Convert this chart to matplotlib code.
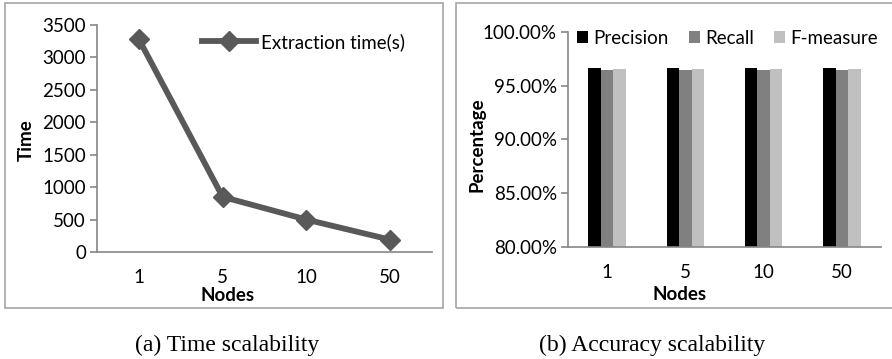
import matplotlib
matplotlib.use("Agg")
import matplotlib.pyplot as plt
from matplotlib.patches import Rectangle
from matplotlib.ticker import FuncFormatter

nodes = ["1", "5", "10", "50"]
extraction_time = [3280, 850, 500, 190]
precision = [96.62, 96.62, 96.62, 96.62]
recall = [96.50, 96.50, 96.50, 96.50]
f_measure = [96.56, 96.56, 96.56, 96.56]

FONT = ["Lato", "DejaVu Sans"]
plt.rcParams['font.family'] = FONT
AX_COL = "#868686"
FS = 13.5

fig = plt.figure(figsize=(8.92, 3.59), dpi=100)
W, H = 892, 359

def fx(px): return px / W
def fy(py): return 1 - py / H

# panel frames
fig.add_artist(Rectangle((fx(5), fy(308)), fx(438), 305 / H, transform=fig.transFigure,
                         fill=False, edgecolor="#a6a6a6", lw=1.2))
fig.add_artist(Rectangle((fx(456), fy(308)), fx(440), 305 / H, transform=fig.transFigure,
                         fill=False, edgecolor="#a6a6a6", lw=1.2))

def style(ax):
    for s in ("top", "right"):
        ax.spines[s].set_visible(False)
    for s in ("left", "bottom"):
        ax.spines[s].set_color(AX_COL)
        ax.spines[s].set_linewidth(1.2)
    ax.tick_params(axis="y", direction="out", length=5, color=AX_COL, width=1.2,
                   labelsize=FS, pad=3)
    ax.tick_params(axis="x", length=0, labelsize=FS, pad=12)

# Left: time
ax1 = fig.add_axes([fx(97), fy(252), fx(335), 227 / H])
x = list(range(len(nodes)))
ax1.plot(x, extraction_time, color="#595959", lw=4.2, marker="D", markersize=10.5,
         label="Extraction time(s)")
ax1.set_xlim(-0.5, 3.5)
ax1.set_ylim(0, 3500)
ax1.set_yticks(range(0, 3501, 500))
ax1.set_xticks(x)
ax1.set_xticklabels(nodes)
style(ax1)
ax1.set_xlabel("Nodes", fontsize=FS, fontweight="bold")
ax1.xaxis.set_label_coords(0.391, -0.192)
ax1.xaxis.label.set_va("center")
ax1.set_ylabel("Time", fontsize=FS, fontweight="bold")
ax1.yaxis.set_label_coords(-0.212, 0.493)
ax1.yaxis.label.set_va("center")
ax1.legend(loc="center left", bbox_to_anchor=(fx(202), fy(42)), bbox_transform=fig.transFigure,
           frameon=False, fontsize=FS, handlelength=2.9, handletextpad=0.27,
           borderaxespad=0, borderpad=0)

# Right: accuracy
ax2 = fig.add_axes([fx(568), fy(247), fx(313), 215 / H])
bw = 0.16
ax2.bar([i - bw for i in x], precision, width=bw, color="#000000", label="Precision")
ax2.bar(x, recall, width=bw, color="#808080", label="Recall")
ax2.bar([i + bw for i in x], f_measure, width=bw, color="#c0c0c0", label="F-measure")
ax2.set_xlim(-0.5, 3.5)
ax2.set_ylim(80, 100)
ax2.set_yticks([80, 85, 90, 95, 100])
ax2.yaxis.set_major_formatter(FuncFormatter(lambda v, p: f"{v:.2f}%"))
ax2.set_xticks(x)
ax2.set_xticklabels(nodes)
style(ax2)
ax2.set_xlabel("Nodes", fontsize=FS, fontweight="bold")
ax2.xaxis.set_label_coords(0.355, -0.22)
ax2.xaxis.label.set_va("center")
ax2.set_ylabel("Percentage", fontsize=FS, fontweight="bold")
ax2.yaxis.set_label_coords(-0.29, 0.474)
ax2.yaxis.label.set_va("center")
ax2.legend(loc="center left", bbox_to_anchor=(fx(577), fy(38)), bbox_transform=fig.transFigure,
           ncol=3, frameon=False, fontsize=FS,
           handlelength=0.6, handleheight=0.6, handletextpad=0.27, columnspacing=1.07,
           borderaxespad=0, borderpad=0)

# captions
fig.text(fx(227), fy(345), "(a) Time scalability", ha="center", va="center",
         family="Liberation Serif", fontsize=17)
fig.text(fx(652), fy(345), "(b) Accuracy scalability", ha="center", va="center",
         family="Liberation Serif", fontsize=17)

fig.savefig("out.png", dpi=100)
